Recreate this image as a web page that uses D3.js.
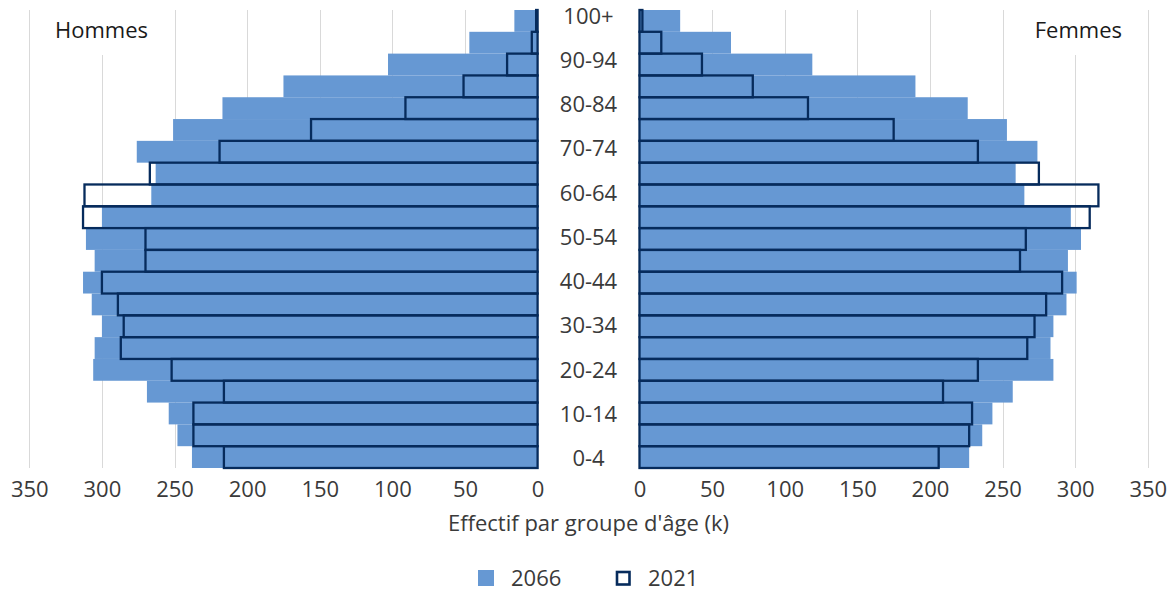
<!DOCTYPE html>
<html><head><meta charset="utf-8">
<script src="https://cdn.jsdelivr.net/npm/d3@7"></script>
<style>
html,body{margin:0;padding:0;background:#fff;}
svg{display:block;font-family:"Open Sans",sans-serif;}
</style></head>
<body>
<svg id="c" width="1175" height="592"></svg>
<script>
const ages = ["0-4","5-9","10-14","15-19","20-24","25-29","30-34","35-39","40-44","45-49","50-54","55-59","60-64","65-69","70-74","75-79","80-84","85-89","90-94","95-99","100+"];
const men2066 = [238,248,254,269,306,305,300,307,313,305,311,300,266,263,276,251,217,175,103,47,16];
const men2021 = [216,237,237,216,252,287,285,289,300,270,270,313,312,267,219,156,91,51,21,4,1];
const women2066 = [227,236,243,257,285,283,285,294,301,295,304,297,265,259,274,253,226,190,119,63,28];
const women2021 = [206,227,229,209,233,267,272,280,291,262,266,310,316,275,233,175,116,78,43,15,2];
const tickValues = [0,50,100,150,200,250,300,350];
const ageLabels = ["0-4","10-14","20-24","30-34","40-44","50-54","60-64","70-74","80-84","90-94","100+"];

const BLUE = "#6698d3", NAVY = "#062b5c", GRID = "#d9d9d9", TXT = "#3a3a3a";
const svg = d3.select("#c");

const xL = d3.scaleLinear().domain([0,350]).range([537.6,29.3]);
const xR = d3.scaleLinear().domain([0,350]).range([639.5,1147.8]);
const y = d3.scaleBand().domain(ages.slice().reverse()).range([10,468]).padding(0);
const yLab = d3.scaleBand().domain(ages.slice().reverse()).range([4.6,469.4]).padding(0);

// gridlines
const g = svg.append("g");
[xL,xR].forEach(sc=>{
  g.selectAll(null).data(tickValues.filter(d=>d>0)).enter().append("line")
   .attr("x1",d=>Math.round(sc(d))+0.5).attr("x2",d=>Math.round(sc(d))+0.5)
   .attr("y1",y.range()[0]).attr("y2",y.range()[1])
   .attr("stroke",GRID).attr("stroke-width",1);
});

// label backgrounds hiding grid
svg.append("rect").attr("x",45).attr("y",0).attr("width",118).attr("height",55).attr("fill","#fff");
svg.append("rect").attr("x",1022).attr("y",0).attr("width",110).attr("height",55).attr("fill","#fff");

// 2066 bars
svg.append("g").selectAll("rect").data(ages).enter().append("rect")
  .attr("x",(d,i)=>xL(men2066[i])).attr("y",d=>y(d))
  .attr("width",(d,i)=>xL(0)-xL(men2066[i])).attr("height",y.bandwidth())
  .attr("fill",BLUE);
svg.append("g").selectAll("rect").data(ages).enter().append("rect")
  .attr("x",xR(0)).attr("y",d=>y(d))
  .attr("width",(d,i)=>xR(women2066[i])-xR(0)).attr("height",y.bandwidth())
  .attr("fill",BLUE);

// 2021 outlines
svg.append("g").selectAll("rect").data(ages).enter().append("rect")
  .attr("x",(d,i)=>xL(men2021[i])).attr("y",d=>y(d))
  .attr("width",(d,i)=>xL(0)-xL(men2021[i])).attr("height",y.bandwidth())
  .attr("fill","none").attr("stroke",NAVY).attr("stroke-width",2.3);
svg.append("g").selectAll("rect").data(ages).enter().append("rect")
  .attr("x",xR(0)).attr("y",d=>y(d))
  .attr("width",(d,i)=>xR(women2021[i])-xR(0)).attr("height",y.bandwidth())
  .attr("fill","none").attr("stroke",NAVY).attr("stroke-width",2.3);

// x axes
const axL = d3.axisBottom(xL).tickValues(tickValues).tickSize(0).tickPadding(0);
const axR = d3.axisBottom(xR).tickValues(tickValues).tickSize(0).tickPadding(0);
[axL,axR].forEach(ax=>{
  const a = svg.append("g").attr("transform","translate(0,497)").call(ax);
  a.select(".domain").remove();
  a.selectAll("text").attr("dy",0).attr("y",0).attr("fill",TXT)
   .style("font-size","22px").style("font-family","'Open Sans',sans-serif");
});

// age labels
const axY = d3.axisRight(yLab).tickValues(ageLabels).tickSize(0).tickPadding(0);
const ay = svg.append("g").attr("transform","translate(588.5,0)").call(axY);
ay.select(".domain").remove();
ay.selectAll("text").attr("x",0).attr("dy","0.36em").attr("text-anchor","middle")
  .attr("fill",TXT).style("font-size","22px").style("font-family","'Open Sans',sans-serif");

// titles
svg.append("text").attr("x",55).attr("y",37.5).attr("fill","#1a1a1a")
  .style("font-size","22px").text("Hommes");
svg.append("text").attr("x",1122).attr("y",37.5).attr("text-anchor","end").attr("fill","#1a1a1a")
  .style("font-size","22px").text("Femmes");
svg.append("text").attr("x",588.5).attr("y",531).attr("text-anchor","middle").attr("fill",TXT)
  .style("font-size","22px").text("Effectif par groupe d'âge (k)");

// legend
const leg = svg.append("g");
leg.append("rect").attr("x",478).attr("y",570).attr("width",16).attr("height",16).attr("fill",BLUE);
leg.append("text").attr("x",511).attr("y",586).attr("fill",TXT).style("font-size","22px").text("2066");
leg.append("rect").attr("x",617).attr("y",572).attr("width",12.5).attr("height",12.5)
  .attr("fill","none").attr("stroke",NAVY).attr("stroke-width",2.6);
leg.append("text").attr("x",648).attr("y",586).attr("fill",TXT).style("font-size","22px").text("2021");
</script>
</body></html>
